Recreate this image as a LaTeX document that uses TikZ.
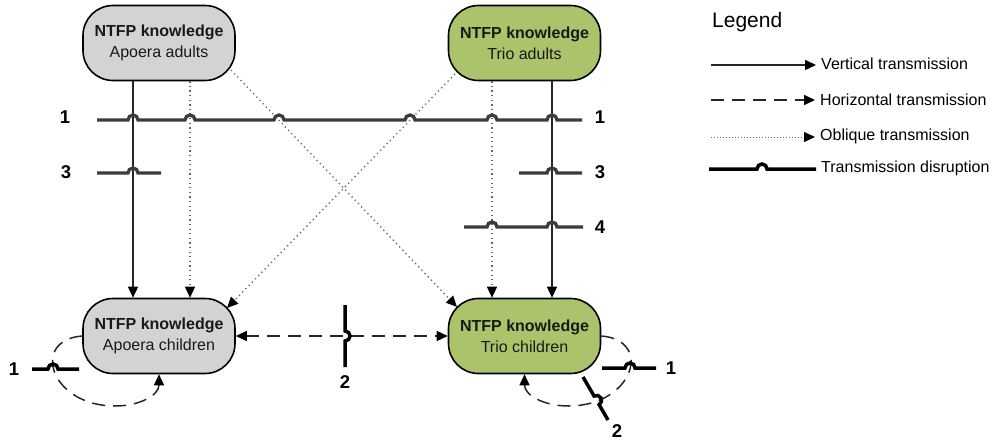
\documentclass[tikz,border=0pt]{standalone}
\usepackage{fontspec}
\setmainfont{Liberation Sans}
\usetikzlibrary{arrows.meta}
\definecolor{apoera}{RGB}{211,211,211}
\definecolor{trio}{RGB}{171,196,108}
\definecolor{barcol}{RGB}{60,60,60}
% a small semicircular hop of a disruption bar over a crossing line
\newcommand{\barhump}[2]{-- ({#1-5},#2) arc[start angle=180,end angle=0,radius=5]}
\begin{document}
\begin{tikzpicture}[x=1pt,y=1pt,
  know/.style={draw=black, line width=1.6pt, rounded corners=30pt,
    minimum width=152pt, minimum height=75pt, inner sep=0pt, align=center,
    text=black!90, font=\fontsize{16}{21}\selectfont},
  tipend/.style={-{Triangle[length=11pt,width=10pt,color=black]}},
  tipboth/.style={{Triangle[length=11pt,width=10pt,color=black]}-{Triangle[length=11pt,width=10pt,color=black]}},
  vert/.style={line width=1.5pt, draw=black!85},
  horiz/.style={line width=1.5pt, draw=black!85, dash pattern=on 13pt off 8pt},
  obl/.style={line width=1.3pt, draw=black!60, dash pattern=on 1.3pt off 3.3pt},
  bar/.style={line width=3.3pt, draw=barcol},
  loopbar/.style={line width=3.5pt, draw=black},
  num/.style={inner sep=1pt, font=\fontsize{18.5}{21}\selectfont\bfseries},
  legtext/.style={anchor=west, inner xsep=5pt, inner ysep=0pt, font=\fontsize{16}{19}\selectfont},
]
\useasboundingbox (0,0) rectangle (1000,-441);

% knowledge holders
\node[know, fill=apoera] (aa) at (159,-43) {\textbf{NTFP knowledge}\\Apoera adults};
\node[know, fill=trio]   (ta) at (524.5,-43) {\textbf{NTFP knowledge}\\Trio adults};
\node[know, fill=apoera] (ac) at (159,-336) {\textbf{NTFP knowledge}\\Apoera children};
\node[know, fill=trio]   (tc) at (524.5,-336) {\textbf{NTFP knowledge}\\Trio children};

% vertical transmission
\draw[vert, tipend] ([xshift=-26pt]aa.south) -- ([xshift=-26pt]ac.north);
\draw[vert, tipend] ([xshift=27.5pt]ta.south) -- ([xshift=27.5pt]tc.north);

% oblique transmission
\draw[obl, tipend] ([xshift=31pt]aa.south) -- ([xshift=31pt]ac.north);
\draw[obl, tipend] ([xshift=-32.5pt]ta.south) -- ([xshift=-32.5pt]tc.north);
\draw[obl, tipend] ([shift={(72,-27)}]aa.center) -- ([shift={(-67.5,29)}]tc.center);
\draw[obl, tipend] ([shift={(-69.5,-31)}]ta.center) -- ([shift={(68,28)}]ac.center);

% horizontal transmission
\draw[horiz, tipboth] (ac.east) -- (tc.west);
\draw[horiz, tipend] (ac.west) .. controls (30,-340) and (50,-406) .. (115,-406)
  .. controls (140,-406) and (159,-395) .. (ac.south);
\draw[horiz, tipend] (tc.east) .. controls (653.5,-340) and (633.5,-406) .. (568.5,-406)
  .. controls (543.5,-406) and (524.5,-395) .. (tc.south);

% disruptions between the adult and child generations
\draw[bar] (97,-120) \barhump{133}{-120} \barhump{190}{-120} \barhump{279}{-120}
  \barhump{410}{-120} \barhump{492}{-120} \barhump{552}{-120} -- (582,-120);
\draw[bar] (97,-173) \barhump{133}{-173} -- (161,-173);
\draw[bar] (519,-173) \barhump{552}{-173} -- (582,-173);
\draw[bar] (464,-227) \barhump{492}{-227} \barhump{552}{-227} -- (583,-227);
\node[num] (n1l) at (65,-117) {1};
\node[num] (n1r) at (600,-117) {1};
\node[num] (n3l) at (66,-172) {3};
\node[num] (n3r) at (600,-172) {3};
\node[num] (n4)  at (600,-227) {4};

% disruptions among the children
\draw[loopbar] (345,-305) -- (345,-331) arc[start angle=90,end angle=-90,radius=5] -- (345,-367);
\node[num] (n2c) at (345,-382) {2};
\draw[loopbar] (32,-369) \barhump{53}{-369} -- (79,-369);
\node[num] (n1a) at (14,-369) {1};
\draw[loopbar] (602,-368) \barhump{630}{-368} -- (656,-368);
\node[num] (n1t) at (671,-368) {1};
\draw[loopbar] (583,-377) -- ++(-59.8:22) arc[start angle=120.2,end angle=-59.8,radius=5] -- (608,-420);
\node[num] (n2t) at (617,-431.5) {2};

% legend
\node[anchor=west, inner sep=0pt, font=\fontsize{21}{24}\selectfont] (legend) at (712,-22) {Legend};
\node[legtext] (lv) at (816,-64) {Vertical transmission};
\node[legtext] (lh) at (815,-100) {Horizontal transmission};
\node[legtext] (lo) at (815,-136) {Oblique transmission};
\node[legtext] (ld) at (816,-168) {Transmission disruption};
\coordinate (lvs) at (711,-65);
\coordinate (lhs) at (711,-100);
\coordinate (los) at (711,-137);
\draw[vert, tipend] (lvs) -- (lv.west |- lvs);
\draw[horiz, tipend] (lhs) -- (lh.west |- lhs);
\draw[obl, line width=1pt, dash pattern=on 1pt off 2pt, tipend] (los) -- (lo.west |- los);
\draw[loopbar] (709,-169) \barhump{762}{-169} -- (ld.west |- 0,-169);
\end{tikzpicture}
\end{document}
